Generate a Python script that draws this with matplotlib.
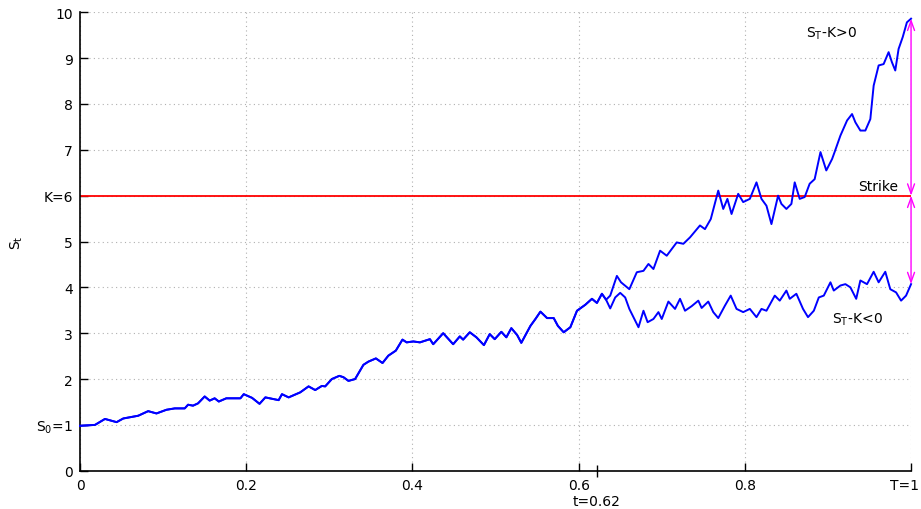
import matplotlib
matplotlib.use("Agg")
import matplotlib.pyplot as plt
from matplotlib.transforms import ScaledTranslation

plt.rcParams['font.family'] = ['DejaVu Sans']
plt.rcParams['mathtext.default'] = 'regular'

# shared path up to the branching time t=0.62
t_common = [0, 0.018, 0.030, 0.044, 0.052, 0.070, 0.082, 0.092, 0.104, 0.114,
            0.126, 0.130, 0.136, 0.142, 0.150, 0.156, 0.162, 0.167, 0.176, 0.193,
            0.197, 0.207, 0.216, 0.223, 0.239, 0.243, 0.251, 0.265, 0.275, 0.283,
            0.291, 0.295, 0.303, 0.312, 0.317, 0.323, 0.331, 0.341, 0.347, 0.356,
            0.364, 0.371, 0.380, 0.388, 0.393, 0.401, 0.409, 0.421, 0.425, 0.437,
            0.449, 0.457, 0.461, 0.469, 0.477, 0.486, 0.493, 0.499, 0.507, 0.513,
            0.519, 0.526, 0.531, 0.542, 0.548, 0.554, 0.562, 0.570, 0.575, 0.582,
            0.590, 0.598, 0.608, 0.616, 0.622, 0.628, 0.633]
s_common = [0.98, 1.0, 1.13, 1.06, 1.14, 1.20, 1.30, 1.25, 1.33, 1.36,
            1.36, 1.44, 1.42, 1.47, 1.62, 1.53, 1.58, 1.51, 1.58, 1.58,
            1.67, 1.59, 1.46, 1.60, 1.54, 1.67, 1.60, 1.71, 1.84, 1.76,
            1.85, 1.84, 2.00, 2.07, 2.04, 1.96, 2.00, 2.31, 2.38, 2.45,
            2.35, 2.51, 2.62, 2.86, 2.80, 2.82, 2.80, 2.87, 2.76, 3.00,
            2.76, 2.93, 2.86, 3.02, 2.91, 2.74, 2.98, 2.87, 3.03, 2.91,
            3.11, 2.96, 2.79, 3.16, 3.31, 3.47, 3.33, 3.33, 3.16, 3.02,
            3.13, 3.49, 3.62, 3.75, 3.66, 3.86, 3.73]

# branch ending above the strike
t_up = [0.638, 0.646, 0.651, 0.661, 0.670, 0.678, 0.684, 0.690, 0.698, 0.706,
        0.718, 0.726, 0.734, 0.746, 0.752, 0.759, 0.768, 0.774, 0.779, 0.784,
        0.792, 0.798, 0.806, 0.814, 0.820, 0.826, 0.832, 0.840, 0.844, 0.850,
        0.856, 0.860, 0.866, 0.872, 0.878, 0.884, 0.891, 0.898, 0.905, 0.908,
        0.915, 0.923, 0.929, 0.933, 0.939, 0.945, 0.951, 0.955, 0.961, 0.967,
        0.973, 0.977, 0.981, 0.985, 0.990, 0.995, 1.0]
s_up = [3.82, 4.25, 4.11, 3.96, 4.33, 4.36, 4.51, 4.40, 4.80, 4.69,
        4.98, 4.95, 5.09, 5.35, 5.27, 5.49, 6.11, 5.71, 5.93, 5.60,
        6.04, 5.86, 5.93, 6.29, 5.93, 5.78, 5.38, 6.00, 5.82, 5.71,
        5.82, 6.29, 5.93, 5.97, 6.26, 6.36, 6.95, 6.55, 6.80, 6.95,
        7.31, 7.64, 7.78, 7.60, 7.42, 7.42, 7.67, 8.40, 8.84, 8.87,
        9.13, 8.91, 8.73, 9.20, 9.46, 9.78, 9.86]

# branch ending below the strike
t_low = [0.638, 0.644, 0.650, 0.656, 0.661, 0.672, 0.678, 0.683, 0.690, 0.696,
         0.700, 0.708, 0.716, 0.722, 0.728, 0.736, 0.744, 0.748, 0.756, 0.762,
         0.768, 0.776, 0.783, 0.790, 0.798, 0.806, 0.814, 0.820, 0.826, 0.836,
         0.842, 0.850, 0.854, 0.862, 0.870, 0.876, 0.883, 0.889, 0.895, 0.903,
         0.907, 0.915, 0.921, 0.927, 0.934, 0.939, 0.947, 0.955, 0.961, 0.969,
         0.975, 0.982, 0.988, 0.994, 1.0]
s_low = [3.54, 3.78, 3.88, 3.78, 3.53, 3.13, 3.49, 3.24, 3.31, 3.46,
         3.31, 3.69, 3.53, 3.75, 3.49, 3.59, 3.71, 3.55, 3.69, 3.46,
         3.33, 3.60, 3.82, 3.53, 3.46, 3.53, 3.35, 3.53, 3.49, 3.82,
         3.71, 3.93, 3.75, 3.86, 3.53, 3.35, 3.49, 3.78, 3.82, 4.11,
         3.93, 4.04, 4.07, 4.00, 3.75, 4.15, 4.07, 4.34, 4.11, 4.34,
         3.96, 3.89, 3.71, 3.82, 4.07]

K = 6
T = 1.0
t_branch = 0.622

xticks = [0, 0.2, 0.4, 0.6, 0.8, 1.0]
xlabels = ['0', '0.2', '0.4', '0.6', '0.8', 'T=1']
yticks = list(range(0, 11))
ylabels = ['0', '$S_0$=1', '2', '3', '4', '5', 'K=6', '7', '8', '9', '10']

fig = plt.figure(figsize=(9.21, 5.10), dpi=100)
ax = fig.add_axes([0.0869, 0.075, 0.9023, 0.899])

ax.plot(t_common + t_up, s_common + s_up, color='#0000ff', lw=1.4, clip_on=False, zorder=3)
ax.plot(t_common + t_low, s_common + s_low, color='#0000ff', lw=1.4, clip_on=False, zorder=3)
ax.axhline(K, color='#ff0000', lw=1.3, zorder=2)

arrow = dict(arrowstyle='<->,head_length=0.7,head_width=0.25', color='#ff00ff',
             lw=1.0, shrinkA=0, shrinkB=0)
ax.annotate('', xy=(T, s_up[-1]), xytext=(T, K), arrowprops=arrow, annotation_clip=False)
ax.annotate('', xy=(T, s_low[-1]), xytext=(T, K), arrowprops=arrow, annotation_clip=False)

ax.text(0.904, 9.55, '$S_T$-K>0', ha='center', va='center', fontsize=10)
ax.text(0.960, 6.22, 'Strike', ha='center', va='center', fontsize=10)
ax.text(0.936, 3.31, '$S_T$-K<0', ha='center', va='center', fontsize=10)

ax.set_xlim(0, 1)
ax.set_ylim(0, 10)
ax.set_xticks(xticks, labels=xlabels)
ax.set_yticks(yticks, labels=ylabels)
ax.set_xticks([t_branch], labels=['t=0.62'], minor=True)
ax.tick_params(which='major', direction='in', length=6, width=1, labelsize=10, pad=5)
ax.tick_params(axis='x', which='minor', direction='inout', length=9, width=1,
               labelsize=10, pad=12)
ax.set_ylabel('$S_t$', fontsize=10, labelpad=8)

# nudge "T=1" left so it stays inside the figure
last = ax.get_xticklabels()[-1]
last.set_transform(last.get_transform() + ScaledTranslation(-0.07, 0, fig.dpi_scale_trans))

ax.grid(True, which='major', color='#b0b0b0', linestyle=(0, (1, 3)), lw=0.8)
ax.spines['top'].set_visible(False)
ax.spines['right'].set_visible(False)
ax.spines['left'].set_linewidth(1.2)
ax.spines['bottom'].set_linewidth(1.2)

fig.savefig('out.png', dpi=100)
